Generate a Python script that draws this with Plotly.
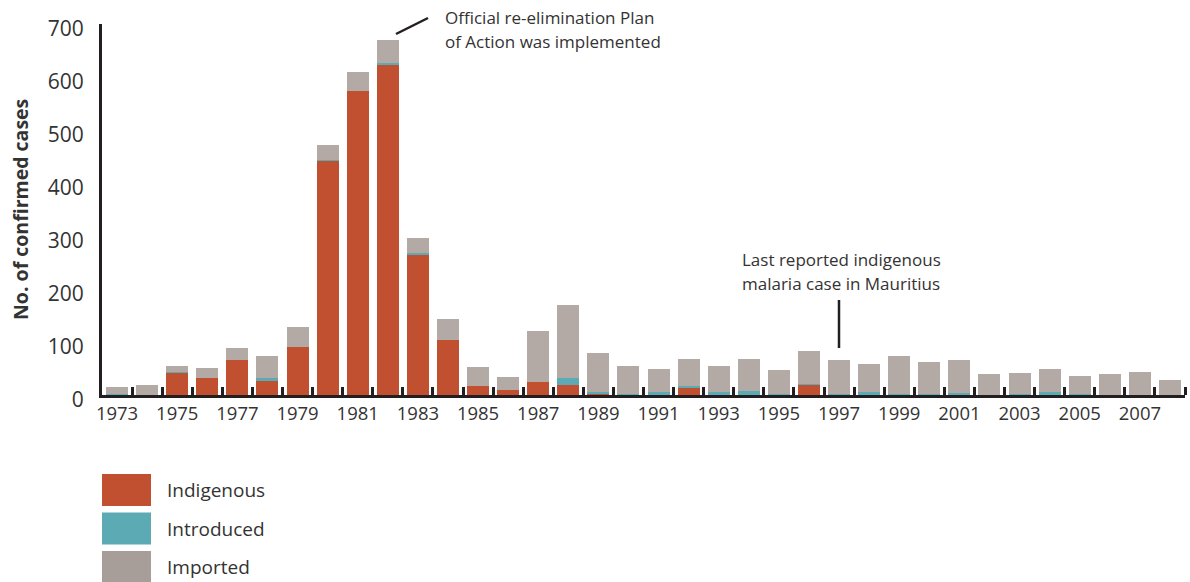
import plotly.graph_objects as go

years = list(range(1973, 2009))
indigenous = [0, 0, 42, 32, 66, 27, 91, 443, 573, 624, 265, 104, 17, 10, 25, 19, 3, 0, 0, 13, 0, 0, 0, 19,
              0, 0, 0, 0, 0, 0, 0, 0, 0, 0, 0, 0]
introduced = [1, 0, 1, 0, 0, 6, 0, 1, 0, 2, 2, 0, 0, 0, 0, 13, 2, 2, 5, 4, 5, 8, 1, 2,
              2, 5, 1, 1, 3, 0, 1, 5, 1, 0, 0, 0]
imported = [14, 19, 12, 19, 23, 41, 38, 28, 36, 44, 30, 40, 36, 24, 96, 138, 74, 53, 44, 51, 50, 60, 46, 62,
            64, 54, 73, 61, 63, 40, 41, 44, 35, 40, 44, 28]
series_names = ["Indigenous", "Introduced", "Imported"]
series_colors = ["#C0502F", "#5CAAB4", "#B3AAA6"]
legend_colors = ["#C0502F", "#5CAAB4", "#A89E99"]
x_tick_years = list(range(1973, 2009, 2))
y_ticks = list(range(0, 701, 100))

FONT = "Open Sans"
TXT = "#333333"
AX = "#231F20"

W, H = 1190, 582
L, R, T, B = 102, 5, 24, 187
PW, PH = W - L - R, H - T - B


def px_x(p):
    return (p - L) / PW


def px_y(p):
    return (H - B - p) / PH


fig = go.Figure()
for name, vals, col in zip(series_names, [indigenous, introduced, imported], series_colors):
    fig.add_trace(go.Bar(x=years, y=vals, name=name, marker=dict(color=col, line=dict(width=0)),
                         showlegend=False))

fig.update_layout(
    width=W, height=H, barmode="stack", bargap=0.27,
    margin=dict(l=L, r=R, t=T, b=B, autoexpand=False),
    plot_bgcolor="white", paper_bgcolor="white",
    font=dict(family=FONT, color=TXT),
)
fig.update_xaxes(
    range=[1972.5, 2008.5], tickvals=x_tick_years, ticks="", showgrid=False, zeroline=False,
    showline=True, linecolor=AX, linewidth=3, tickfont=dict(size=18.5, color=TXT),
    ticklabelstandoff=0, automargin=False,
    minor=dict(tickvals=[y + 0.5 for y in years], ticks="inside", ticklen=8, tickwidth=3,
               tickcolor=AX, showgrid=False),
)
fig.update_yaxes(
    range=[0, 700], tickvals=y_ticks, ticks="", showgrid=False, zeroline=False,
    showline=True, linecolor=AX, linewidth=3, tickfont=dict(size=21, color=TXT),
    ticklabelstandoff=11, ticklabelshift=5, automargin=False,
)

ann = []
ann.append(dict(text="<b>No. of confirmed cases</b>", textangle=-90, xref="paper", yref="paper",
                x=px_x(20), y=px_y(210), xanchor="center", yanchor="middle", showarrow=False,
                font=dict(size=19.5, color=TXT)))
for txt, py in [("Official re-elimination Plan", 17), ("of Action was implemented", 41)]:
    ann.append(dict(text=txt, xref="paper", yref="paper", x=px_x(443), y=px_y(py),
                    xanchor="left", yanchor="middle", showarrow=False, font=dict(size=17, color=TXT)))
for txt, py in [("Last reported indigenous", 259), ("malaria case in Mauritius", 283)]:
    ann.append(dict(text=txt, xref="paper", yref="paper", x=px_x(740), y=px_y(py),
                    xanchor="left", yanchor="middle", showarrow=False, font=dict(size=17, color=TXT)))
shapes = [
    dict(type="line", xref="paper", yref="paper", x0=px_x(396), y0=px_y(34), x1=px_x(428), y1=px_y(18),
         line=dict(color=AX, width=2.5)),
    dict(type="line", xref="paper", yref="paper", x0=px_x(839), y0=px_y(300), x1=px_x(839), y1=px_y(348),
         line=dict(color=AX, width=2.5)),
]
for i, (name, col) in enumerate(zip(series_names, legend_colors)):
    top = 474 + i * 38.5
    shapes.append(dict(type="rect", xref="paper", yref="paper", x0=px_x(102), x1=px_x(151),
                       y0=px_y(top), y1=px_y(top + 32), fillcolor=col, line=dict(width=0)))
    ann.append(dict(text=name, xref="paper", yref="paper", x=px_x(165), y=px_y(top + 16),
                    xanchor="left", yanchor="middle", showarrow=False, font=dict(size=19, color=TXT)))

fig.update_layout(annotations=ann, shapes=shapes)
fig.write_html("out.html", config={"displayModeBar": False},
               post_script="document.body.style.margin='0';document.body.style.padding='0';")
